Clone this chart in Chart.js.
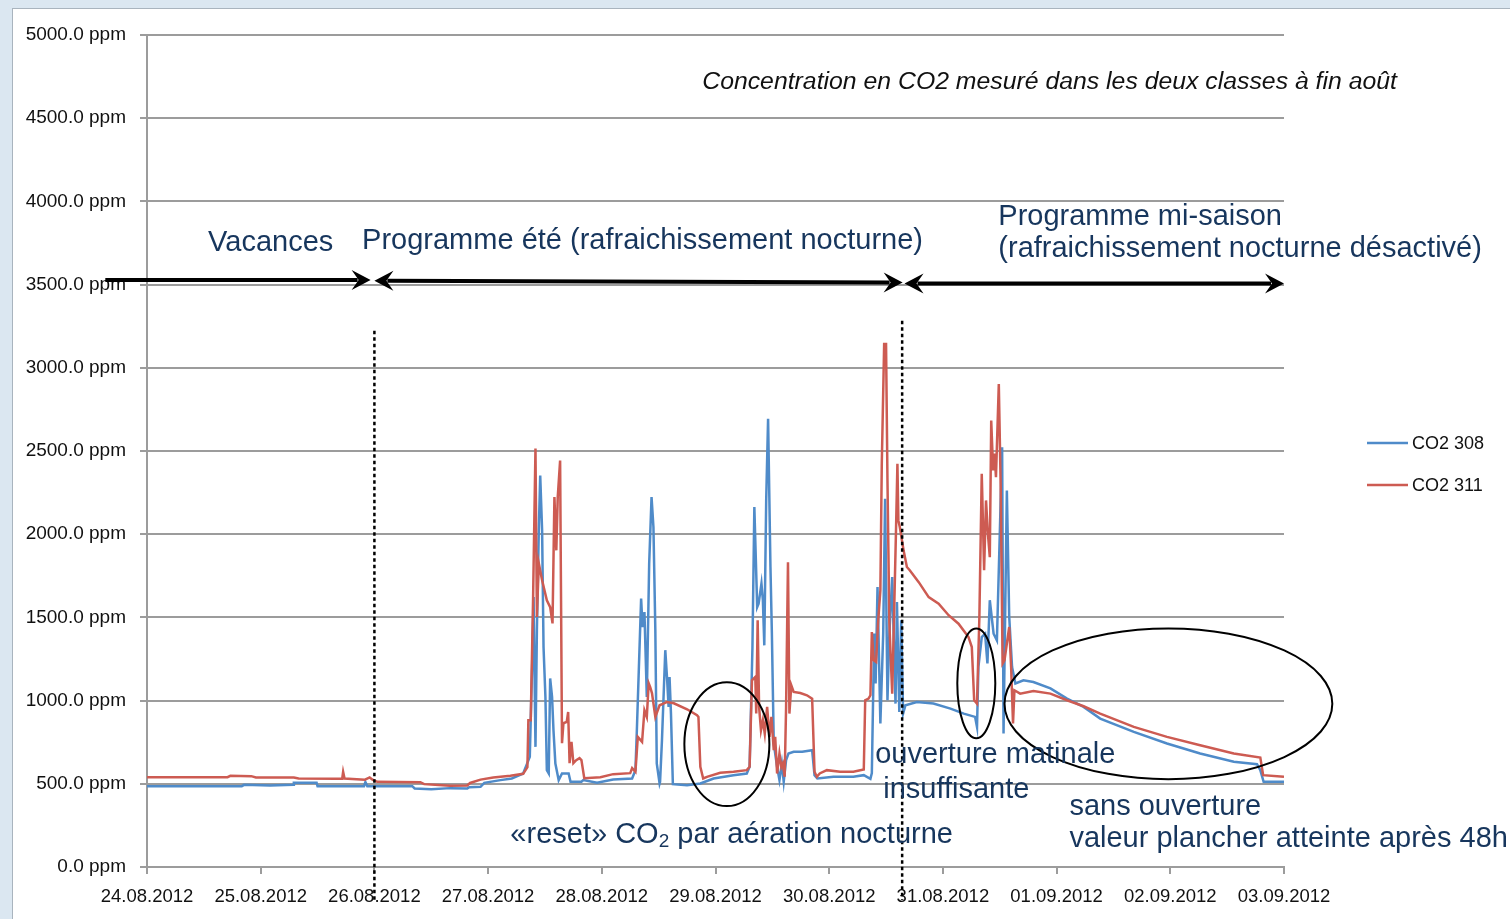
<!DOCTYPE html>
<html>
<head>
<meta charset="utf-8">
<script src="https://cdn.jsdelivr.net/npm/chart.js@4.4.1/dist/chart.umd.min.js"></script>
<style>
    body { margin: 0; background: #dbe7f1; overflow: hidden; }
    .panel { position: absolute; left: 12px; top: 8px; right: 0; bottom: 0; background: #fff;
             border-left: 1px solid #a9b4be; border-top: 1px solid #a9b4be; }
    #co2Chart { position: absolute; left: 0; top: 0; }
</style>
</head>
<body>
<div class="panel"></div>
<canvas id="co2Chart" width="1510" height="919"></canvas>
<script>
// x axis = hours since 24.08.2012 00:00
const dayLabels = ['24.08.2012', '25.08.2012', '26.08.2012', '27.08.2012', '28.08.2012', '29.08.2012',
    '30.08.2012', '31.08.2012', '01.09.2012', '02.09.2012', '03.09.2012'];

// CO2 308 (blue)
const hours308 = [0, 20, 20.5, 26, 30.9, 31, 35.8, 36, 45.8, 46.1, 46.5, 56, 56.5, 60, 64, 67.6, 68, 70.4, 71.2, 74.6,
    77, 79.4, 80.8, 81.3, 81.6, 82.0, 82.3, 82.7, 83.0, 83.4, 83.7, 84.1, 84.4, 84.8, 85.1, 85.5, 85.8, 86.2, 86.9, 87.6,
    89.0, 89.4, 91.7, 92.1, 95.0, 98.4, 102.4, 103.1, 103.4, 104.3, 104.6, 105.0, 105.5, 106.0, 106.5, 106.9, 107.3, 107.6, 108.2, 108.3,
    108.7, 109.4, 109.8, 110.1, 110.3, 110.6, 111.0, 114.0, 116.8, 119.6, 123.8, 126.6, 127.2, 127.8, 128.2, 128.8, 129.1, 129.7, 130.0, 130.3,
    130.7, 131.1, 131.6, 131.9, 132.3, 133.0, 133.5, 134.0, 134.4, 134.9, 135.4, 136.5, 138.3, 140.4, 140.9, 141.5, 144.9, 149.1, 151.3, 152.7,
    153.0, 153.5, 153.8, 154.2, 154.8, 155.4, 155.8, 156.3, 156.7, 157.3, 157.6, 158.0, 158.3, 158.8, 159.2, 159.6, 160.1, 162.5, 166.0, 169.6,
    172.4, 174.8, 175.2, 175.5, 176.2, 176.9, 177.4, 177.9, 178.7, 179.4, 180.5, 180.8, 181.5, 182.0, 182.6, 183.3, 185.0, 187.1, 190.7, 194.2,
    197.7, 201.2, 208.3, 215.3, 222.3, 229.4, 234.3, 235.0, 235.7, 240];
const co2_308 = [486, 486, 494, 490, 494, 506, 506, 486, 486, 510, 486, 486, 472, 468, 474, 472, 480, 482, 506, 522,
    532, 562, 662, 1223, 1622, 722, 1423, 2023, 2353, 2023, 1322, 1022, 582, 562, 1133, 1022, 822, 622, 522, 562,
    562, 512, 512, 522, 506, 526, 532, 582, 822, 1613, 1442, 1532, 1022, 1823, 2223, 2043, 1423, 622, 502, 512,
    762, 1303, 1122, 962, 1142, 922, 498, 492, 502, 532, 552, 562, 602, 1322, 2163, 1562, 1583, 1703, 1603, 1332,
    2203, 2693, 1803, 1403, 742, 602, 522, 622, 512, 642, 682, 692, 692, 702, 552, 532, 542, 542, 552, 530,
    564, 1403, 1103, 1683, 862, 1403, 2213, 1002, 1403, 1743, 1403, 982, 1593, 932, 1483, 922, 972, 992, 982, 952,
    922, 902, 842, 1202, 1382, 1402, 1223, 1603, 1402, 1362, 2523, 802, 2263, 1502, 1202, 1103, 1122, 1112, 1073, 1012,
    962, 892, 812, 742, 682, 632, 618, 582, 512, 512];

// CO2 311 (red)
const hours311 = [0, 17, 17.6, 22, 23, 31, 32, 40, 41.2, 41.4, 41.7, 46, 47, 47.6, 48.6, 57.7, 58.5, 64, 67.6, 68.2,
    70.4, 73.1, 76.7, 79.4, 80.3, 80.5, 81.0, 81.5, 82.0, 82.3, 82.7, 83.4, 84.4, 85.1, 85.6, 86.0, 86.4, 86.7, 87.2, 87.6,
    87.9, 88.6, 88.9, 89.2, 89.6, 90.0, 90.6, 91.3, 91.7, 92.3, 95.7, 98.4, 102.0, 102.4, 103.1, 103.6, 104.5, 105.0, 105.5, 105.9,
    106.2, 106.6, 107.3, 108.2, 109.8, 111.2, 114.0, 116.1, 116.4, 116.8, 117.4, 118.2, 121.0, 123.8, 126.6, 127.2, 127.7, 128.4, 128.6, 128.9,
    129.2, 129.6, 130.0, 130.4, 130.9, 131.4, 131.8, 132.3, 132.6, 133.0, 133.5, 133.9, 134.2, 134.6, 134.9, 135.3, 135.6, 136.0, 136.5, 137.9,
    139.3, 140.4, 140.9, 141.4, 142.0, 143.5, 146.3, 149.1, 151.3, 151.6, 152.3, 152.7, 153.0, 153.4, 153.9, 154.3, 154.8, 155.1, 155.6, 156.0,
    156.3, 156.7, 157.3, 157.7, 158.1, 158.4, 158.6, 158.9, 159.7, 160.4, 161.0, 162.9, 165.0, 167.1, 169.2, 171.3, 173.4, 174.1, 174.6, 175.2,
    175.4, 175.7, 176.2, 176.7, 177.1, 177.5, 177.9, 178.2, 178.6, 178.9, 179.2, 179.8, 180.2, 180.6, 181.0, 181.5, 182.0, 182.4, 182.8, 183.1,
    184.3, 187.1, 190.7, 194.2, 197.7, 201.2, 208.3, 215.3, 222.3, 229.4, 235.0, 235.6, 240];
const co2_311 = [540, 540, 548, 546, 538, 538, 532, 530, 530, 572, 532, 525, 538, 525, 512, 510, 498, 488, 490, 505,
    525, 538, 548, 560, 600, 882, 882, 1622, 2515, 1502, 1825, 1723, 1603, 1562, 1464, 2223, 1903, 2223, 2443, 744,
    864, 872, 932, 624, 752, 624, 642, 654, 642, 534, 540, 558, 564, 594, 572, 782, 752, 942, 902, 1104,
    1082, 1044, 902, 972, 992, 984, 948, 912, 902, 602, 532, 542, 566, 572, 582, 602, 1122, 1142, 922, 1483,
    962, 822, 882, 802, 962, 782, 902, 702, 782, 562, 682, 602, 622, 542, 962, 1832, 922, 1092, 1052, 1046,
    1032, 1012, 572, 542, 562, 582, 572, 572, 586, 1002, 1012, 1032, 1412, 1242, 1232, 1462, 1662, 2423, 3143, 3143,
    2323, 1462, 1042, 1522, 2023, 2423, 2083, 2043, 1903, 1803, 1783, 1712, 1622, 1583, 1513, 1462, 1382, 1322, 1002, 982,
    982, 1502, 2363, 1783, 2203, 2003, 1862, 2683, 2383, 2485, 2343, 2903, 2283, 1223, 1242, 1343, 1442, 1202, 862, 1062,
    1042, 1058, 1042, 1002, 966, 922, 842, 782, 732, 682, 658, 552, 542];

// annotations, in chart units (hours, ppm)
const periodArrows = [
    { from: -8.8, to: 47.2, y1: 3528, y2: 3528, both: false },
    { from: 48.0, to: 159.5, y1: 3523, y2: 3513, both: true },
    { from: 159.9, to: 240, y1: 3507, y2: 3507, both: true }
];
const dottedLines = [
    { h: 48.0, top: 3223, bottom: -198 },
    { h: 159.4, top: 3283, bottom: -198 }
];
const ellipses = [
    { h: 122.4, ppm: 738, rh: 8.97, rp: 372 },
    { h: 175.05, ppm: 1104, rh: 4.01, rp: 330 },
    { h: 215.6, ppm: 981, rh: 34.6, rp: 453 }
];
const notes = [
    { parts: ['Vacances'], h: 12.9, ppm: 3703 },
    { parts: ['Programme été (rafraichissement nocturne)'], h: 45.4, ppm: 3715 },
    { parts: ['Programme mi-saison'], h: 179.7, ppm: 3860 },
    { parts: ['(rafraichissement nocturne désactivé)'], h: 179.7, ppm: 3668 },
    { parts: ['ouverture matinale'], h: 153.7, ppm: 624 },
    { parts: ['insuffisante'], h: 155.4, ppm: 414 },
    { parts: ['«reset» CO', '2', ' par aération nocturne'], h: 76.7, ppm: 144 },
    { parts: ['sans ouverture'], h: 194.7, ppm: 312 },
    { parts: ['valeur plancher atteinte après 48h'], h: 194.7, ppm: 118 }
];
const chartTitle = { text: 'Concentration en CO2 mesuré dans les deux classes à fin août', h: 117.2, ppm: 4676 };

const toPoints = (xs, ys) => xs.map((h, i) => ({ x: h, y: ys[i] }));

function arrowHead(ctx, x, y, ang) {
    ctx.save();
    ctx.translate(x, y);
    ctx.rotate(ang);
    ctx.beginPath();
    ctx.moveTo(0, 0);
    ctx.lineTo(-19, -10);
    ctx.lineTo(-12, 0);
    ctx.lineTo(-19, 10);
    ctx.closePath();
    ctx.fill();
    ctx.restore();
}

const overlay = {
    id: 'overlay',
    afterDatasetsDraw(chart) {
        const { ctx, scales: { x, y } } = chart;
        ctx.save();

        // dotted separators
        ctx.strokeStyle = '#000';
        ctx.lineWidth = 2.5;
        ctx.setLineDash([3.5, 3]);
        dottedLines.forEach(d => {
            const px = x.getPixelForValue(d.h);
            ctx.beginPath();
            ctx.moveTo(px, y.getPixelForValue(d.top));
            ctx.lineTo(px, y.getPixelForValue(d.bottom));
            ctx.stroke();
        });
        ctx.setLineDash([]);

        // period arrows
        ctx.fillStyle = '#000';
        periodArrows.forEach(a => {
            const x1 = x.getPixelForValue(a.from), x2 = x.getPixelForValue(a.to);
            const y1 = y.getPixelForValue(a.y1), y2 = y.getPixelForValue(a.y2);
            const ang = Math.atan2(y2 - y1, x2 - x1);
            ctx.lineWidth = 4;
            ctx.beginPath();
            ctx.moveTo(x1 + (a.both ? 13 * Math.cos(ang) : 0), y1 + (a.both ? 13 * Math.sin(ang) : 0));
            ctx.lineTo(x2 - 13 * Math.cos(ang), y2 - 13 * Math.sin(ang));
            ctx.stroke();
            arrowHead(ctx, x2, y2, ang);
            if (a.both) arrowHead(ctx, x1, y1, ang + Math.PI);
        });

        // ellipses
        ctx.lineWidth = 2;
        ellipses.forEach(e => {
            const cx = x.getPixelForValue(e.h), cy = y.getPixelForValue(e.ppm);
            const rx = x.getPixelForValue(e.h + e.rh) - cx;
            const ry = cy - y.getPixelForValue(e.ppm + e.rp);
            ctx.beginPath();
            ctx.ellipse(cx, cy, rx, ry, 0, 0, Math.PI * 2);
            ctx.stroke();
        });

        // notes
        ctx.fillStyle = '#17365d';
        ctx.textBaseline = 'alphabetic';
        notes.forEach(n => {
            let px = x.getPixelForValue(n.h);
            const py = y.getPixelForValue(n.ppm);
            n.parts.forEach((t, i) => {
                const sub = n.parts.length > 1 && i === 1;
                ctx.font = sub ? '19px "Liberation Sans"' : '29px "Liberation Sans"';
                ctx.fillText(t, px, sub ? py + 4 : py);
                px += ctx.measureText(t).width;
            });
        });

        // title
        ctx.fillStyle = '#111';
        ctx.font = 'italic 24.8px "Liberation Sans"';
        ctx.fillText(chartTitle.text, x.getPixelForValue(chartTitle.h), y.getPixelForValue(chartTitle.ppm));

        // legend
        ctx.font = '18px "Liberation Sans"';
        ctx.textBaseline = 'middle';
        chart.data.datasets.forEach((ds, i) => {
            const ly = 443 + i * 42;
            ctx.strokeStyle = ds.borderColor;
            ctx.lineWidth = 2.5;
            ctx.beginPath();
            ctx.moveTo(1367, ly);
            ctx.lineTo(1408, ly);
            ctx.stroke();
            ctx.fillStyle = '#111';
            ctx.fillText(ds.label, 1412, ly + 1);
        });
        ctx.restore();
    }
};

const ctx = document.getElementById('co2Chart').getContext('2d');

new Chart(ctx, {
    type: 'line',
    data: {
        datasets: [{
            label: 'CO2 308',
            data: toPoints(hours308, co2_308),
            borderColor: '#4f8bc9',
            borderWidth: 2.5,
            pointRadius: 0,
            tension: 0,
            order: 1
        }, {
            label: 'CO2 311',
            data: toPoints(hours311, co2_311),
            borderColor: '#cd5b52',
            borderWidth: 2.5,
            pointRadius: 0,
            tension: 0,
            order: 0
        }]
    },
    options: {
        responsive: false,
        animation: false,
        layout: { padding: { left: 0, top: 35, right: 226, bottom: 0 } },
        plugins: {
            legend: { display: false },
            tooltip: { enabled: false }
        },
        scales: {
            x: {
                type: 'linear',
                min: 0,
                max: 240,
                afterFit: scale => { scale.height = 52; },
                grid: { drawOnChartArea: false, drawTicks: true, tickLength: 7, color: '#9c9c9c', lineWidth: 2 },
                border: { display: true, color: '#9c9c9c', width: 2 },
                ticks: {
                    stepSize: 24,
                    autoSkip: false,
                    maxRotation: 0,
                    padding: 12,
                    color: '#111',
                    font: { family: 'Liberation Sans', size: 18.5 },
                    callback: v => dayLabels[v / 24]
                }
            },
            y: {
                min: 0,
                max: 5000,
                afterFit: scale => { scale.width = 147; },
                grid: { color: '#9c9c9c', lineWidth: 2, tickLength: 7 },
                border: { display: true, color: '#9c9c9c', width: 2 },
                ticks: {
                    stepSize: 500,
                    padding: 14,
                    color: '#111',
                    font: { family: 'Liberation Sans', size: 19 },
                    callback: v => v.toFixed(1) + ' ppm'
                }
            }
        }
    },
    plugins: [overlay]
});
</script>
</body>
</html>
